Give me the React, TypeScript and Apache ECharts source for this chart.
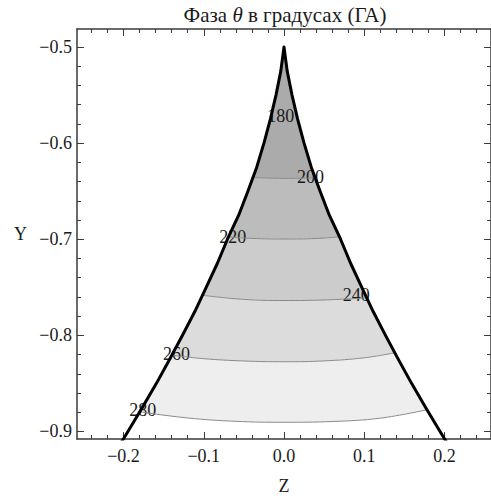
import { useEffect, useRef } from "react";
import * as echarts from "echarts";

// Axis extents and tick positions
const zRange = [-0.258, 0.258];
const yRange = [-0.9079, -0.4812];
const zMajorTicks = [-0.2, -0.1, 0, 0.1, 0.2];
const zMinorTicks = [
  -0.24, -0.22, -0.18, -0.16, -0.14, -0.12, -0.08, -0.06, -0.04, -0.02,
  0.02, 0.04, 0.06, 0.08, 0.12, 0.14, 0.16, 0.18, 0.22, 0.24,
];
const yMajorTicks = [-0.9, -0.8, -0.7, -0.6, -0.5];
const yMinorTicks = [
  -0.88, -0.86, -0.84, -0.82, -0.78, -0.76, -0.74, -0.72, -0.68, -0.66,
  -0.64, -0.62, -0.58, -0.56, -0.54, -0.52,
];

// Wedge boundary: half-width |Z| of the region at each Y
const boundaryY = [
  -0.5, -0.525, -0.55, -0.575, -0.6, -0.625, -0.65, -0.675, -0.7, -0.725,
  -0.75, -0.775, -0.8, -0.825, -0.85, -0.875, -0.9, -0.92,
];
const boundaryHalfZ = [
  0, 0.004, 0.01, 0.017, 0.025, 0.034, 0.045, 0.0565, 0.0705, 0.083,
  0.097, 0.111, 0.1265, 0.1425, 0.159, 0.1765, 0.1945, 0.209,
];

// Phase contours (degrees) as [Z, Y] polylines, left to right
const contour200 = [[-0.039, -0.6357], [-0.02, -0.6363], [0, -0.6367], [0.02, -0.6365], [0.039, -0.636]];
const contour220 = [[-0.069, -0.6977], [-0.04, -0.6991], [0, -0.6998], [0.04, -0.6992], [0.069, -0.6975]];
const contour240 = [[-0.101, -0.7584], [-0.05, -0.7626], [0, -0.7638], [0.05, -0.7632], [0.103, -0.7611]];
const contour260 = [
  [-0.14, -0.8207], [-0.1, -0.8243], [-0.05, -0.8267], [0, -0.8275],
  [0.05, -0.8266], [0.1, -0.8234], [0.138, -0.8182],
];
const contour280 = [
  [-0.18, -0.8796], [-0.12, -0.886], [-0.06, -0.8895], [0, -0.8905],
  [0.06, -0.8897], [0.12, -0.8862], [0.178, -0.8775],
];
const contours = [contour200, contour220, contour240, contour260, contour280];

// Contour labels
const labelLevels = [180, 200, 220, 240, 260, 280];
const labelZ = [-0.004, 0.033, -0.064, 0.09, -0.134, -0.176];
const labelY = [-0.572, -0.635, -0.6975, -0.7577, -0.819, -0.8772];

const bandColors = ["#ababab", "#bcbcbc", "#cccccc", "#dcdcdc", "#eeeeee"];

const FONT = '"Liberation Serif", "Times New Roman", serif';

const leftBoundary = boundaryY.map((y, i) => [-boundaryHalfZ[i], y]);
const rightBoundary = boundaryY.map((y, i) => [boundaryHalfZ[i], y]);

// Polygon of the band between an upper contour (or the tip) and a lower contour
function bandPolygon(upper: number[][] | null, lower: number[][]) {
  const pts: number[][] = [];
  let topL = -0.5;
  let topR = -0.5;
  if (upper) {
    pts.push(...upper);
    topL = upper[0][1];
    topR = upper[upper.length - 1][1];
  } else {
    pts.push([0, -0.5]);
  }
  const lowL = lower[0][1];
  const lowR = lower[lower.length - 1][1];
  rightBoundary.forEach((p) => {
    if (p[1] < topR && p[1] > lowR) pts.push(p);
  });
  pts.push(...[...lower].reverse());
  [...leftBoundary].reverse().forEach((p) => {
    if (p[1] > lowL && p[1] < topL) pts.push(p);
  });
  return pts;
}

const bandPolys = contours.map((c, i) => bandPolygon(i === 0 ? null : contours[i - 1], c));

function fmt(v: number) {
  return (v < 0 ? "\u2212" : "") + Math.abs(v).toFixed(1);
}

export default function App() {
  const ref = useRef<HTMLDivElement>(null);
  useEffect(() => {
    if (!ref.current) return;
    const chart = echarts.init(ref.current, null, { renderer: "svg" });
    const lineStyleAxis = { color: "#3a3a3a", width: 1.5 };
    const tickStyle = { color: "#3a3a3a", width: 1 };
    const makeAxis = (
      kind: "x" | "y",
      position: string,
      ticks: number[],
      len: number,
      showLine: boolean,
      labels: boolean,
      extra: any = {}
    ) => ({
      type: "value",
      position,
      min: kind === "x" ? zRange[0] : yRange[0],
      max: kind === "x" ? zRange[1] : yRange[1],
      splitLine: { show: false },
      axisLine: { show: showLine, onZero: false, lineStyle: lineStyleAxis },
      axisTick: { show: true, inside: true, length: len, customValues: ticks, lineStyle: tickStyle },
      axisLabel: labels
        ? {
            show: true,
            customValues: ticks,
            formatter: fmt,
            fontFamily: FONT,
            fontSize: 18,
            color: "#1a1a1a",
            margin: kind === "x" ? 8 : 5,
          }
        : { show: false },
      ...extra,
    });

    chart.setOption({
      animation: false,
      grid: { left: 77, top: 29, width: 416, height: 418 },
      graphic: [
        {
          type: "text",
          x: 285,
          y: 15,
          style: {
            text: "Фаза {i|θ} в градусах (ГА)",
            font: `21px ${FONT}`,
            fill: "#1a1a1a",
            align: "center",
            verticalAlign: "middle",
            rich: { i: { fontStyle: "italic", fontFamily: FONT, fontSize: 21, fill: "#1a1a1a" } },
          },
        },
      ],
      xAxis: [
        makeAxis("x", "bottom", zMajorTicks, 7, true, true, {
          name: "Z",
          nameLocation: "middle",
          nameGap: 38,
          nameTextStyle: { fontFamily: FONT, fontSize: 18, color: "#1a1a1a" },
        }),
        makeAxis("x", "bottom", zMinorTicks, 4, false, false),
        makeAxis("x", "top", zMajorTicks, 7, true, false),
        makeAxis("x", "top", zMinorTicks, 4, false, false),
      ],
      yAxis: [
        makeAxis("y", "left", yMajorTicks, 7, true, true, {
          name: "Y",
          nameLocation: "middle",
          nameRotate: 0,
          nameGap: 50,
          nameTextStyle: { fontFamily: FONT, fontSize: 18, color: "#1a1a1a" },
        }),
        makeAxis("y", "left", yMinorTicks, 4, false, false),
        makeAxis("y", "right", yMajorTicks, 7, true, false),
        makeAxis("y", "right", yMinorTicks, 4, false, false),
      ],
      series: [
        {
          type: "custom",
          name: "bands",
          xAxisIndex: 0,
          yAxisIndex: 0,
          clip: true,
          data: bandPolys.map((poly) => poly[0]),
          renderItem: (params: any, api: any) => {
            const poly = bandPolys[params.dataIndex];
            return {
              type: "polygon",
              shape: { points: poly.map((p) => api.coord(p)) },
              style: { fill: bandColors[params.dataIndex], stroke: "none" },
            };
          },
        },
        ...contours.map((c) => ({
          type: "line",
          xAxisIndex: 0,
          yAxisIndex: 0,
          data: c,
          showSymbol: false,
          smooth: 0.4,
          lineStyle: { color: "#8a8a8a", width: 1 },
        })),
        {
          type: "line",
          name: "boundary",
          xAxisIndex: 0,
          yAxisIndex: 0,
          data: [...[...leftBoundary].reverse(), ...rightBoundary.slice(1)],
          showSymbol: false,
          lineStyle: { color: "#000", width: 3, join: "round" },
        },
        {
          type: "custom",
          name: "labels",
          xAxisIndex: 0,
          yAxisIndex: 0,
          clip: false,
          data: labelLevels.map((lv, i) => [labelZ[i], labelY[i], lv]),
          renderItem: (params: any, api: any) => {
            const pt = api.coord([api.value(0), api.value(1)]);
            return {
              type: "text",
              x: pt[0],
              y: pt[1],
              style: {
                text: String(api.value(2)),
                font: `18px ${FONT}`,
                fill: "#1a1a1a",
                align: "center",
                verticalAlign: "middle",
              },
            };
          },
        },
      ],
    });
    return () => chart.dispose();
  }, []);
  return (
    <div
      ref={ref}
      style={{ position: "absolute", left: 0, top: 0, width: 491, height: 500, background: "#fff" }}
    />
  );
}
